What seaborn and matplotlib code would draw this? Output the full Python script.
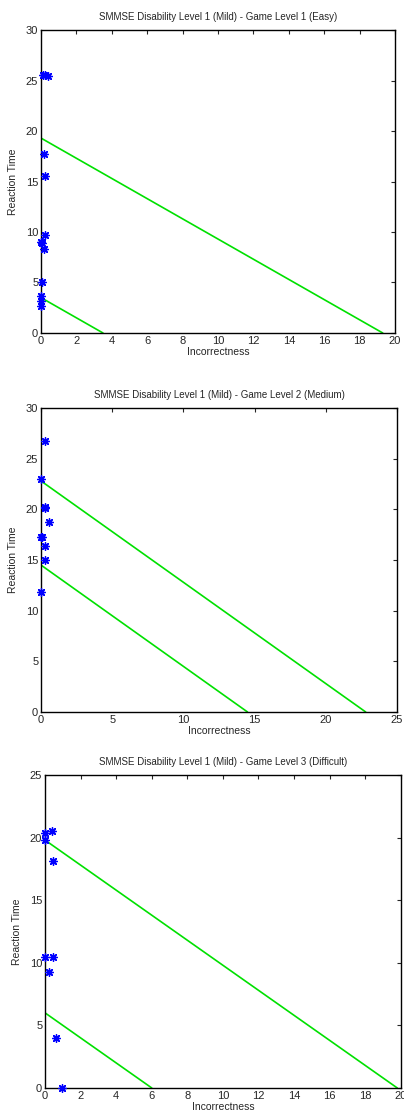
import numpy as np
import pandas as pd
import seaborn as sns
import matplotlib.pyplot as plt

# Game level 1 (Easy)
easy_x = [0.1, 0.2, 0.4, 0.15, 0.2, 0.2, 0.0, 0.05, 0.15, 0.05, 0.0, 0.0, 0.0]
easy_y = [25.5, 25.5, 25.4, 17.7, 15.5, 9.7, 9.0, 8.9, 8.3, 5.0, 3.7, 3.2, 2.7]
easy_lines = [19.3, 3.5]

# Game level 2 (Medium)
med_x = [0.3, 0.0, 0.3, 0.25, 0.55, 0.0, 0.05, 0.3, 0.3, 0.0]
med_y = [26.7, 23.0, 20.2, 20.1, 18.8, 17.3, 17.3, 16.4, 15.0, 11.8]
med_lines = [22.8, 14.5]

# Game level 3 (Difficult)
diff_x = [0.0, 0.4, 0.0, 0.45, 0.0, 0.45, 0.2, 0.6, 0.95]
diff_y = [20.4, 20.5, 19.8, 18.1, 10.5, 10.5, 9.3, 4.0, 0.0]
diff_lines = [19.8, 6.0]

titles = [
    "SMMSE Disability Level 1 (Mild) - Game Level 1 (Easy)",
    "SMMSE Disability Level 1 (Mild) - Game Level 2 (Medium)",
    "SMMSE Disability Level 1 (Mild) - Game Level 3 (Difficult)",
]
xlims = [20, 25, 20]
ylims = [30, 30, 25]
xticks = [np.arange(0, 21, 2), np.arange(0, 26, 5), np.arange(0, 21, 2)]
yticks = [np.arange(0, 31, 5), np.arange(0, 31, 5), np.arange(0, 26, 5)]

sns.set_style("white")
plt.rcParams['font.family'] = ['Liberation Sans', 'DejaVu Sans']

fig = plt.figure(figsize=(4.04, 11.17), dpi=100)
boxes = [
    [0.1015, 0.7019, 0.8765, 0.2712],
    [0.1015, 0.3626, 0.8812, 0.2721],
    [0.1114, 0.0260, 0.8807, 0.2802],
]

panels = [(easy_x, easy_y, easy_lines), (med_x, med_y, med_lines), (diff_x, diff_y, diff_lines)]

for i, (xs, ys, lines) in enumerate(panels):
    ax = fig.add_axes(boxes[i])
    for c in lines:
        seg = pd.DataFrame({"x": [0, c], "y": [c, 0]})
        sns.lineplot(data=seg, x="x", y="y", ax=ax, color="#00e000", linewidth=1.2)
    pts = pd.DataFrame({"x": xs, "y": ys})
    sns.scatterplot(data=pts, x="x", y="y", ax=ax, marker=(8, 2, 0), color="#0000ff",
                    s=30, linewidth=1.0, edgecolor="#0000ff", clip_on=False, zorder=3)
    ax.set_xlim(0, xlims[i])
    ax.set_ylim(0, ylims[i])
    ax.set_xticks(xticks[i])
    ax.set_yticks(yticks[i])
    ax.tick_params(direction="in", top=True, right=True, length=3, width=0.8,
                   labelsize=8, pad=2)
    for sp in ax.spines.values():
        sp.set_color("black")
        sp.set_linewidth(1.0)
    ax.set_title(titles[i], fontsize=7, pad=7)
    ax.set_xlabel("Incorrectness", fontsize=7.5, labelpad=1)
    ax.set_ylabel("Reaction Time", fontsize=7.5, labelpad=6)

fig.savefig("out.png", dpi=100)
